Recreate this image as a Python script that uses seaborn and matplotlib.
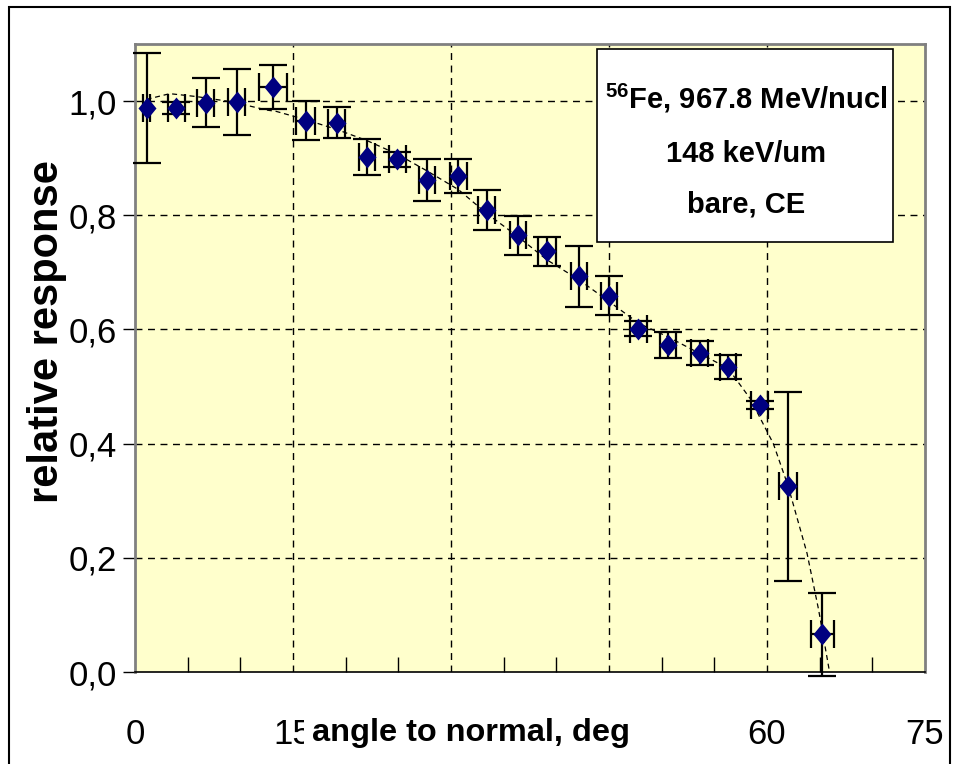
import matplotlib
matplotlib.use("Agg")
import matplotlib.pyplot as plt
import matplotlib.patches as mpatches
from matplotlib.ticker import MultipleLocator, FuncFormatter
import seaborn as sns
import pandas as pd

# ---- data ----
angle = [1.1, 3.9, 6.7, 9.65, 13.1, 16.2, 19.15, 22.0, 24.9, 27.7, 30.7, 33.4,
         36.4, 39.1, 42.15, 45.0, 47.8, 50.6, 53.6, 56.3, 59.3, 62.0, 65.25]
response = [0.988, 0.988, 0.997, 0.998, 1.025, 0.966, 0.962, 0.902, 0.898, 0.862,
            0.869, 0.810, 0.765, 0.737, 0.693, 0.659, 0.601, 0.573, 0.558, 0.535,
            0.468, 0.325, 0.066]
resp_err = [0.097, 0.011, 0.043, 0.058, 0.039, 0.035, 0.027, 0.032, 0.013, 0.037,
            0.030, 0.035, 0.034, 0.025, 0.053, 0.034, 0.013, 0.023, 0.021, 0.021,
            0.007, 0.165, 0.073]
angle_err = [0.3, 0.8, 0.78, 0.78, 1.3, 0.87, 0.79, 0.74, 0.82, 0.76, 0.82, 0.79,
             0.76, 0.85, 0.76, 0.76, 0.84, 0.76, 0.79, 0.73, 0.79, 0.87, 1.07]

fit_angle = [1.1, 3.3, 5.8, 9.1, 12.6, 13.4, 16.3, 19.2, 22.0, 24.9, 27.7, 30.7,
             33.4, 36.4, 39.1, 42.15, 45.0, 47.8, 50.6, 53.6, 56.3, 58.4, 60.6,
             62.0, 63.8, 64.9, 65.9]
fit_resp = [1.003, 1.013, 1.008, 0.999, 0.984, 0.982, 0.967, 0.950, 0.931, 0.907,
            0.878, 0.845, 0.803, 0.762, 0.722, 0.687, 0.649, 0.611, 0.587, 0.558,
            0.532, 0.479, 0.400, 0.326, 0.208, 0.109, 0.004]

info_lines = [r"$^{56}$Fe, 967.8 MeV/nucl", "148 keV/um", "bare, CE"]
x_label = "angle to normal, deg"
y_label = "relative response"

df = pd.DataFrame({"angle": angle, "response": response})
fit_df = pd.DataFrame({"angle": fit_angle, "response": fit_resp})

sns.set_style("white")
plt.rcParams["font.family"] = ["Liberation Sans", "DejaVu Sans"]
plt.rcParams["text.color"] = "black"
plt.rcParams["xtick.color"] = "black"
plt.rcParams["ytick.color"] = "black"
plt.rcParams["mathtext.fontset"] = "custom"
plt.rcParams["mathtext.rm"] = "Liberation Sans:bold"
plt.rcParams["mathtext.default"] = "rm"

W, H = 957, 764
fig = plt.figure(figsize=(W / 100, H / 100), dpi=100)
fig.patch.set_facecolor("white")

# outer frame of the image
fig.add_artist(mpatches.Rectangle((9 / W, -0.05), (950 - 9) / W, 1.05 - 7 / H,
                                  transform=fig.transFigure, fill=False,
                                  edgecolor="black", lw=1.5))

ax = fig.add_axes([135 / W, (H - 672) / H, (925 - 135) / W, (672 - 44) / H])
ax.set_facecolor("#FFFFCC")

ax.set_xlim(0, 75)
ax.set_ylim(0, 1.1)

# grid
for xv in [15, 30, 45, 60]:
    ax.axvline(xv, color="black", lw=1.0, dashes=(5, 4), zorder=1)
for yv in [0.2, 0.4, 0.6, 0.8, 1.0]:
    ax.axhline(yv, color="black", lw=1.0, dashes=(5, 4), zorder=1)

# fit line
sns.lineplot(data=fit_df, x="angle", y="response", ax=ax, color="black",
             lw=0.9, dashes=False, zorder=2, sort=False)
ax.lines[-1].set_dashes((4, 3))

# error bars
ax.errorbar(angle, response, yerr=resp_err, xerr=angle_err, fmt="none",
            ecolor="black", elinewidth=1.6, capsize=10, capthick=1.6,
            zorder=3, clip_on=False)

# markers
diamond = [(0, 1), (0.82, 0), (0, -1), (-0.82, 0), (0, 1)]
sns.scatterplot(data=df, x="angle", y="response", ax=ax, marker=diamond,
                s=250, color="#000080", edgecolor="#000080", linewidth=0,
                zorder=4, clip_on=False)

# ticks
ax.xaxis.set_major_locator(MultipleLocator(15))
ax.xaxis.set_minor_locator(MultipleLocator(5))
ax.yaxis.set_major_locator(MultipleLocator(0.2))
ax.yaxis.set_major_formatter(FuncFormatter(lambda v, p: f"{v:.1f}".replace(".", ",")))
ax.xaxis.set_major_formatter(FuncFormatter(lambda v, p: f"{v:.0f}"))
ax.tick_params(axis="x", which="major", direction="out", length=11, width=1,
               color="black", labelsize=25, pad=22)
ax.tick_params(axis="x", which="minor", direction="in", length=11, width=1,
               color="black", bottom=True)
ax.tick_params(axis="y", which="major", direction="out", length=9, width=1,
               color="black", labelsize=25, pad=4, left=True)
ax.set_xlabel("")
ax.set_ylabel("")

for side in ["top", "right", "left"]:
    ax.spines[side].set_color("#808080")
    ax.spines[side].set_linewidth(2)
ax.spines["bottom"].set_color("black")
ax.spines["bottom"].set_linewidth(1.2)

# info box
ax.add_patch(mpatches.Rectangle((43.9, 0.753), 72.0 - 43.9, 1.091 - 0.753,
                                facecolor="white", edgecolor="black", lw=1.2,
                                zorder=5))
for line, yy in zip(info_lines, [1.004, 0.907, 0.818]):
    ax.text(58.0, yy, line, ha="center", va="center", fontsize=21,
            fontweight="bold", color="black", zorder=6)

# axis labels
fig.text(471 / W, 1 - 733 / H, x_label, ha="center", va="center", fontsize=23.4,
         fontweight="bold", color="black",
         bbox=dict(facecolor="white", edgecolor="none", pad=6), zorder=10)
fig.text(47 / W, 1 - 332 / H, y_label, ha="center", va="center", fontsize=30,
         fontweight="bold", rotation=90, color="black")

fig.savefig("out.png", dpi=100)
